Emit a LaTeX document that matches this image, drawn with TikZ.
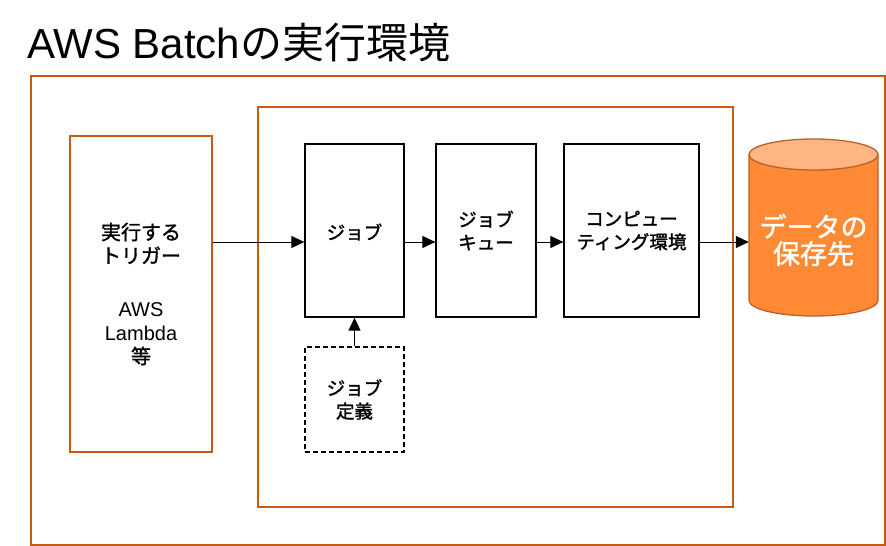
\documentclass[tikz,border=0pt]{standalone}
\usepackage{fontspec}
\setmainfont{Liberation Sans}
\newfontfamily\jp{Noto Sans CJK JP}
\newfontfamily\jpm{Noto Sans CJK JP}[FakeBold=1.6]
\usetikzlibrary{arrows.meta}
\definecolor{boxorange}{RGB}{197,90,17}
\definecolor{cylfill}{RGB}{255,137,52}
\definecolor{cyltop}{RGB}{255,181,130}
\definecolor{cylline}{RGB}{190,95,40}
\begin{document}
\begin{tikzpicture}[x=1pt,y=-1pt,
  orangebox/.style={draw=boxorange, line width=1.5pt, inner sep=0pt},
  blackbox/.style={draw=black, line width=1.3pt, inner sep=0pt, align=center,
    font=\jpm\fontsize{18.5}{23}\selectfont},
  dashbox/.style={blackbox, dash pattern=on 5pt off 3pt},
  arr/.style={-{Triangle[length=13pt,width=12pt]}, line width=1pt},
  lab/.style={inner sep=0pt, align=center}]
\useasboundingbox (0,0) rectangle (886,546);
\node[anchor=base west, inner sep=0pt, font=\fontsize{42}{50}\selectfont] (title) at (27,58) {AWS Batch{\jp の実行環境}};
\node[orangebox, minimum width=854pt, minimum height=469pt] (outer) at (458,310.5) {};
\node[orangebox, minimum width=475pt, minimum height=400pt] (inner) at (495.5,307) {};
\node[orangebox, minimum width=142pt, minimum height=316pt, align=center,
  font=\jpm\fontsize{20}{23.5}\selectfont] (trig) at (141,294) {実行する\\トリガー\\[30pt]{\rmfamily\fontsize{20}{24}\selectfont AWS}\\{\rmfamily\fontsize{20}{24}\selectfont Lambda}\\等};
\node[blackbox, minimum width=99pt, minimum height=173pt] (job) at (354.5,230.5) {};
\node[lab, font=\jpm\fontsize{18.5}{23}\selectfont] (joblab) at (354.5,232) {ジョブ};
\node[dashbox, minimum width=99pt, minimum height=105pt] (def) at (354.5,399.5) {ジョブ\\定義};
\node[blackbox, minimum width=100pt, minimum height=173pt] (queue) at (486,230.5) {ジョブ\\キュー};
\node[blackbox, minimum width=135pt, minimum height=173pt] (comp) at (631.5,230.5) {コンピュー\\ティング環境};
% cylinder
\filldraw[fill=cylfill, draw=cylline, line width=1.3pt] (749,154.5) -- (749,300.5)
  arc[start angle=180, end angle=0, x radius=64.5, y radius=15.5] -- (878,154.5) -- cycle;
\filldraw[fill=cyltop, draw=cylline, line width=1.3pt] (813.5,154.5) ellipse[x radius=64.5, y radius=15.5];
\node[inner sep=0pt, minimum width=129pt, minimum height=177pt] (db) at (813.5,227.5) {};
\node[lab, text=white, font=\jpm\fontsize{27}{27}\selectfont] (dblab) at (813.5,240) {データの\\保存先};
\coordinate (row) at (0,242);
\draw[arr] (trig.east |- row) -- (job.west |- row);
\draw[arr] (job.east |- row) -- (queue.west |- row);
\draw[arr] (queue.east |- row) -- (comp.west |- row);
\draw[arr] (comp.east |- row) -- (db.west |- row);
\draw[arr] (def.north) -- (job.south);
\end{tikzpicture}
\end{document}
